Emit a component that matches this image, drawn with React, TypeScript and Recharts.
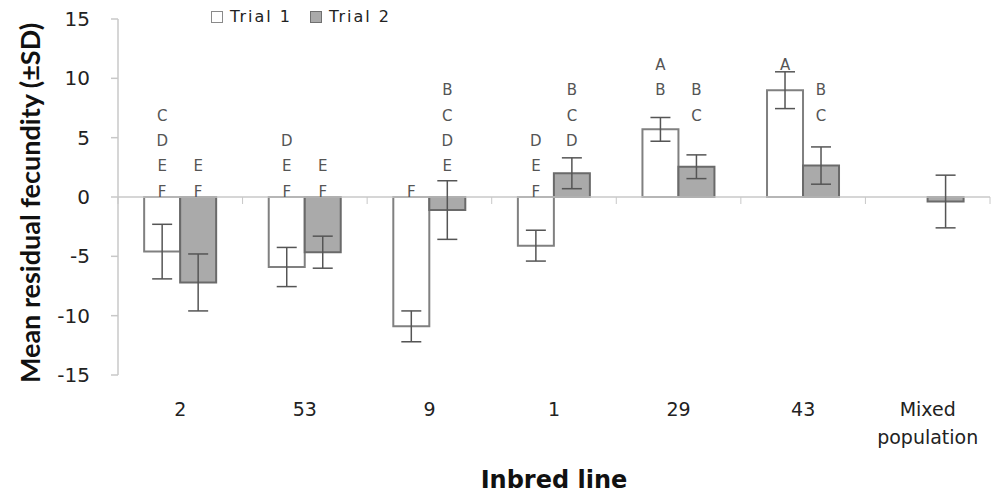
import React from "react";
import {
  BarChart,
  Bar,
  XAxis,
  YAxis,
  ErrorBar,
  LabelList,
  Legend,
  ReferenceLine,
} from "recharts";

const CATEGORIES = ["2", "53", "9", "1", "29", "43", "Mixed population"];
const TRIAL1 = [-4.6, -5.9, -10.9, -4.1, 5.7, 9.0, null];
const TRIAL1_SD = [2.3, 1.65, 1.3, 1.3, 1.0, 1.55, null];
const TRIAL2 = [-7.2, -4.65, -1.1, 2.0, 2.55, 2.65, -0.38];
const TRIAL2_SD = [2.4, 1.35, 2.47, 1.3, 1.0, 1.57, 2.22];
// significance groups (letters shown above each bar)
const TRIAL1_GROUPS = ["CDEF", "DEF", "F", "DEF", "AB", "A", ""];
const TRIAL2_GROUPS = ["EF", "EF", "BCDE", "BCD", "BC", "BC", ""];
const GROUP_LETTERS = ["A", "B", "C", "D", "E", "F"];
const Y_TICKS = [-15, -10, -5, 0, 5, 10, 15];

const data = CATEGORIES.map((name, i) => ({
  name,
  t1: TRIAL1[i],
  t1sd: TRIAL1_SD[i],
  t1g: TRIAL1_GROUPS[i],
  t2: TRIAL2[i],
  t2sd: TRIAL2_SD[i],
  t2g: TRIAL2_GROUPS[i],
}));

const WIDTH = 992;
const HEIGHT = 500;
const MARGIN = { top: 19, right: 2, bottom: 0, left: 0 };
const Y_AXIS_W = 118;
const X_AXIS_H = 125;
const PLOT_LEFT = MARGIN.left + Y_AXIS_W;
const PLOT_W = WIDTH - PLOT_LEFT - MARGIN.right;
const PLOT_H = HEIGHT - MARGIN.top - MARGIN.bottom - X_AXIS_H;
const BAND = PLOT_W / CATEGORIES.length;

const FONT = "'DejaVu Sans', sans-serif";
const GRID = "#c8c8c8";

// y pixel for a value on the [-15, 15] axis
const yPx = (v: number) => MARGIN.top + ((15 - v) / 30) * PLOT_H;

function GroupLetters(props: any) {
  const { x, width, value } = props;
  if (!value) return null;
  const cx = x + width / 2;
  return (
    <g>
      {value.split("").map((ch: string) => {
        const row = GROUP_LETTERS.length - 1 - GROUP_LETTERS.indexOf(ch);
        const cy = yPx(0) - 6 - row * 25.3;
        return (
          <text
            key={ch}
            x={cx}
            y={cy + 5.5}
            textAnchor="middle"
            fontFamily={FONT}
            fontSize={15}
            fill="#555"
          >
            {ch}
          </text>
        );
      })}
    </g>
  );
}

function CategoryTick(props: any) {
  const { x, y, payload, index } = props;
  const lines = payload.value.split(" ");
  const zero = yPx(0);
  return (
    <g>
      <line x1={x - BAND / 2} x2={x - BAND / 2} y1={zero} y2={zero + 7} stroke={GRID} />
      {index === CATEGORIES.length - 1 && (
        <line x1={x + BAND / 2} x2={x + BAND / 2} y1={zero} y2={zero + 7} stroke={GRID} />
      )}
      {lines.map((ln: string, i: number) => (
        <text
          key={ln}
          x={x}
          y={y + 41 + i * 28}
          textAnchor="middle"
          fontFamily={FONT}
          fontSize={19}
          fill="#222"
        >
          {ln}
        </text>
      ))}
    </g>
  );
}

function LegendContent() {
  const items = [
    { label: "Trial 1", fill: "#ffffff", stroke: "#8a8a8a" },
    { label: "Trial 2", fill: "#aaaaaa", stroke: "#707070" },
  ];
  return (
    <div style={{ display: "flex", gap: 18, fontFamily: FONT, fontSize: 16, color: "#222" }}>
      {items.map((it) => (
        <div key={it.label} style={{ display: "flex", alignItems: "center", gap: 7 }}>
          <div
            style={{
              width: 10,
              height: 10,
              background: it.fill,
              border: `1.5px solid ${it.stroke}`,
            }}
          />
          <span style={{ letterSpacing: 2 }}>{it.label}</span>
        </div>
      ))}
    </div>
  );
}

function YTitle() {
  return (
    <text
      x={40}
      y={yPx(0) + 6}
      transform={`rotate(-90, 40, ${yPx(0) + 6})`}
      textAnchor="middle"
      fontFamily="Lato, sans-serif"
      fontWeight="bold"
      fontSize={27}
      fill="#111"
    >
      Mean residual fecundity (±SD)
    </text>
  );
}

export default function App() {
  return (
    <div style={{ position: "absolute", left: 0, top: 0, width: WIDTH, height: HEIGHT, background: "#fff" }}>
      <BarChart
        width={WIDTH}
        height={HEIGHT}
        data={data}
        margin={MARGIN}
        barCategoryGap="21%"
        barGap={0}
      >
        <XAxis
          dataKey="name"
          height={X_AXIS_H}
          axisLine={false}
          tickLine={false}
          tickSize={0}
          tickMargin={0}
          interval={0}
          tick={<CategoryTick />}
          label={{
            value: "Inbred line",
            position: "insideBottom",
            offset: 12,
            style: { fontFamily: FONT, fontWeight: "bold", fontSize: 24, fill: "#111" },
          }}
        />
        <YAxis
          width={Y_AXIS_W}
          domain={[-15, 15]}
          ticks={Y_TICKS}
          interval={0}
          axisLine={{ stroke: GRID, strokeWidth: 1.5 }}
          tickLine={{ stroke: GRID, strokeWidth: 1.5 }}
          tickSize={7}
          tickMargin={21}
          tick={{ fontFamily: FONT, fontSize: 20, fill: "#222" }}
          label={<YTitle />}
        />
        <Legend
          layout="vertical"
          verticalAlign="middle"
          align="center"
          content={<LegendContent />}
          wrapperStyle={{ position: "absolute", left: 211, top: 7, width: 230, height: 20 }}
        />
        <ReferenceLine y={0} stroke={GRID} strokeWidth={1.5} />
        <Bar dataKey="t1" name="Trial 1" fill="#ffffff" stroke="#808080" strokeWidth={2} isAnimationActive={false}>
          <ErrorBar dataKey="t1sd" width={10} stroke="#555" strokeWidth={1.5} direction="y" />
          <LabelList dataKey="t1g" content={<GroupLetters />} />
        </Bar>
        <Bar dataKey="t2" name="Trial 2" fill="#aaaaaa" stroke="#6a6a6a" strokeWidth={2} isAnimationActive={false}>
          <ErrorBar dataKey="t2sd" width={10} stroke="#555" strokeWidth={1.5} direction="y" />
          <LabelList dataKey="t2g" content={<GroupLetters />} />
        </Bar>
      </BarChart>
    </div>
  );
}
